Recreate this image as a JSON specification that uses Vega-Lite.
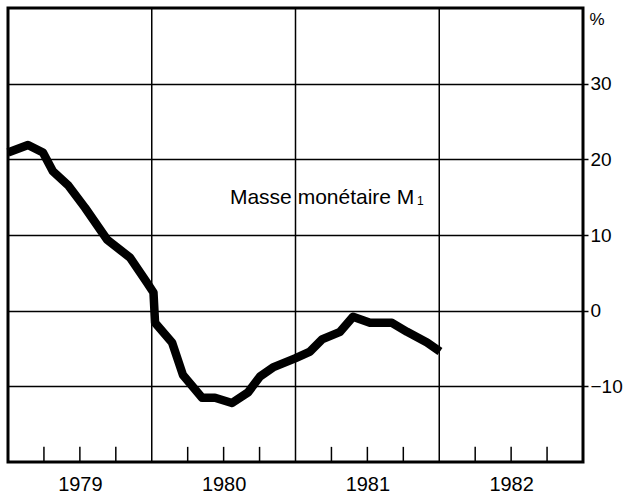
{
  "$schema": "https://vega.github.io/schema/vega-lite/v6.json",
  "width": 575,
  "height": 454,
  "autosize": "none",
  "padding": {"left": 8, "top": 8, "right": 43, "bottom": 37},
  "background": "white",
  "config": {
    "view": {"stroke": "black", "strokeWidth": 3},
    "font": "Liberation Sans"
  },
  "encoding": {
    "x": {
      "field": "t",
      "type": "quantitative",
      "scale": {"domain": [1979, 1983], "nice": false, "zero": false},
      "axis": {
        "values": [1979.5, 1980.5, 1981.5, 1982.5],
        "labelExpr": "floor(datum.value)",
        "ticks": false,
        "domain": false,
        "grid": false,
        "labelFontSize": 20,
        "labelColor": "black",
        "labelPadding": 12,
        "title": null
      }
    }
  },
  "layer": [
    {
      "data": {"values": [{"t": 1980}, {"t": 1981}, {"t": 1982}]},
      "mark": {"type": "rule", "color": "black", "strokeWidth": 1.5},
      "encoding": {}
    },
    {
      "data": {"values": [
        {"t": 1979.25}, {"t": 1979.5}, {"t": 1979.75},
        {"t": 1980.25}, {"t": 1980.5}, {"t": 1980.75},
        {"t": 1981.25}, {"t": 1981.5}, {"t": 1981.75},
        {"t": 1982.25}, {"t": 1982.5}, {"t": 1982.75}
      ]},
      "mark": {"type": "rule", "color": "black", "strokeWidth": 1.5},
      "encoding": {
        "y": {"datum": -20, "type": "quantitative"},
        "y2": {"datum": -18}
      }
    },
    {
      "data": {"values": [
        {"t": 1979.000, "v": 20.9},
        {"t": 1979.139, "v": 21.9},
        {"t": 1979.243, "v": 20.9},
        {"t": 1979.313, "v": 18.4},
        {"t": 1979.417, "v": 16.6},
        {"t": 1979.536, "v": 13.6},
        {"t": 1979.689, "v": 9.4},
        {"t": 1979.849, "v": 7.0},
        {"t": 1979.967, "v": 3.7},
        {"t": 1980.012, "v": 2.4},
        {"t": 1980.023, "v": -1.6},
        {"t": 1980.141, "v": -4.2},
        {"t": 1980.217, "v": -8.5},
        {"t": 1980.350, "v": -11.5},
        {"t": 1980.440, "v": -11.5},
        {"t": 1980.558, "v": -12.2},
        {"t": 1980.670, "v": -10.8},
        {"t": 1980.753, "v": -8.7},
        {"t": 1980.843, "v": -7.5},
        {"t": 1980.997, "v": -6.3},
        {"t": 1981.101, "v": -5.4},
        {"t": 1981.184, "v": -3.8},
        {"t": 1981.310, "v": -2.8},
        {"t": 1981.400, "v": -0.8},
        {"t": 1981.518, "v": -1.6},
        {"t": 1981.671, "v": -1.6},
        {"t": 1981.776, "v": -2.8},
        {"t": 1981.915, "v": -4.2},
        {"t": 1982.005, "v": -5.4}
      ]},
      "mark": {"type": "line", "color": "black", "strokeWidth": 8.5, "strokeJoin": "round", "strokeCap": "butt"},
      "encoding": {
        "order": {"field": "t", "type": "quantitative"},
        "y": {
          "field": "v",
          "type": "quantitative",
          "scale": {"domain": [-20, 40], "nice": false, "zero": false},
          "axis": {
            "orient": "right",
            "values": [-10, 0, 10, 20, 30],
            "grid": true,
            "gridColor": "black",
            "gridWidth": 1.5,
            "gridOpacity": 1,
            "domain": false,
            "ticks": true,
            "tickColor": "black",
            "tickSize": 5,
            "tickWidth": 1.5,
            "labelFontSize": 19,
            "labelColor": "black",
            "labelPadding": 2,
            "title": "%",
            "titleAngle": 0,
            "titleAlign": "left",
            "titleBaseline": "top",
            "titleX": 6,
            "titleY": 3,
            "titleFontSize": 17,
            "titleFontWeight": "normal",
            "titleColor": "black"
          }
        }
      }
    },
    {
      "data": {"values": [{"t": 1980.544, "v": 14.1, "label": "Masse monétaire M"}]},
      "mark": {"type": "text", "align": "left", "baseline": "alphabetic", "fontSize": 21, "color": "black"},
      "encoding": {
        "y": {"field": "v", "type": "quantitative"},
        "text": {"field": "label"}
      }
    },
    {
      "data": {"values": [{"t": 1981.845, "v": 13.95, "label": "1"}]},
      "mark": {"type": "text", "align": "left", "baseline": "alphabetic", "fontSize": 12, "color": "black"},
      "encoding": {
        "y": {"field": "v", "type": "quantitative"},
        "text": {"field": "label"}
      }
    }
  ]
}
